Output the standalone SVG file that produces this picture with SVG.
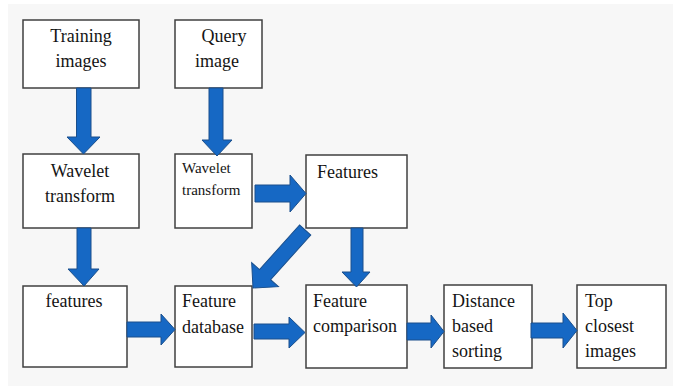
<svg xmlns="http://www.w3.org/2000/svg" width="673" height="390" viewBox="0 0 673 390">
  <style>
    .box { fill: #ffffff; stroke: #404040; stroke-width: 1.5; }
    .arrow { fill: #1668c4; stroke: #1a4f8c; stroke-width: 1; stroke-linejoin: miter; }
    text { font-family: "Liberation Serif", "Times New Roman", serif; font-size: 18px; fill: #141414; }
    .small { font-size: 15px; }
  </style>

  <!-- page -->
  <rect x="0" y="0" width="673" height="390" fill="#ffffff"/>
  <rect x="8" y="4" width="665" height="382" fill="#f7f7f7"/>

  <!-- nodes -->
  <g id="training-images">
    <rect class="box" x="23" y="20" width="116" height="68"/>
    <text x="81" y="42" text-anchor="middle">Training</text>
    <text x="81" y="67" text-anchor="middle">images</text>
  </g>
  <g id="query-image">
    <rect class="box" x="175" y="20" width="87" height="68"/>
    <text x="224" y="42" text-anchor="middle">Query</text>
    <text x="217" y="67" text-anchor="middle">image</text>
  </g>
  <g id="wavelet-left">
    <rect class="box" x="23" y="154" width="116" height="74"/>
    <text x="80" y="177" text-anchor="middle">Wavelet</text>
    <text x="80" y="202" text-anchor="middle">transform</text>
  </g>
  <g id="wavelet-query">
    <rect class="box" x="175" y="154" width="77" height="74"/>
    <text class="small" x="182" y="173">Wavelet</text>
    <text class="small" x="182" y="195">transform</text>
  </g>
  <g id="features-query">
    <rect class="box" x="306" y="155" width="101" height="73"/>
    <text x="317" y="178">Features</text>
  </g>
  <g id="features">
    <rect class="box" x="23" y="286" width="104" height="81"/>
    <text x="74" y="307" text-anchor="middle">features</text>
  </g>
  <g id="feature-database">
    <rect class="box" x="175" y="286" width="77" height="81"/>
    <text x="182" y="307">Feature</text>
    <text x="182" y="333">database</text>
  </g>
  <g id="feature-comparison">
    <rect class="box" x="306" y="285" width="101" height="83"/>
    <text x="313" y="307">Feature</text>
    <text x="313" y="332">comparison</text>
  </g>
  <g id="distance-sorting">
    <rect class="box" x="444" y="285" width="88" height="83"/>
    <text x="452" y="307">Distance</text>
    <text x="452" y="332">based</text>
    <text x="452" y="357">sorting</text>
  </g>
  <g id="top-closest">
    <rect class="box" x="577" y="285" width="89" height="83"/>
    <text x="585" y="307">Top</text>
    <text x="585" y="332">closest</text>
    <text x="585" y="357">images</text>
  </g>

  <!-- block arrows -->
  <g id="connectors">
    <!-- training images -> wavelet -->
    <polygon class="arrow" points="76.5,88 91,88 91,137 100,137 83.5,154 67,137 76.5,137"/>
    <!-- query image -> wavelet -->
    <polygon class="arrow" points="209,88 223,88 223,140 232,140 217,156 202,140 209,140"/>
    <!-- wavelet -> features (left column) -->
    <polygon class="arrow" points="77,228 91,228 91,269 99,269 84,286 68,269 77,269"/>
    <!-- wavelet (query) -> Features -->
    <polygon class="arrow" points="255,185 290,185 290,175 306,193.5 290,212 290,202 255,202"/>
    <!-- Features -> feature comparison -->
    <polygon class="arrow" points="351,228 363,228 363,272 370,272 356.5,287 342,272 351,272"/>
    <!-- Features -> feature database (diagonal) -->
    <polygon class="arrow" transform="translate(253,288) rotate(132)" points="0,0 -18,-18 -18,-7.5 -78,-7.5 -78,7.5 -18,7.5 -18,18"/>
    <!-- features -> feature database -->
    <polygon class="arrow" points="127,322 161,322 161,314 175,329.5 161,345 161,337 127,337"/>
    <!-- feature database -> feature comparison -->
    <polygon class="arrow" points="254,324 289,324 289,317 305,332.5 289,348 289,339 254,339"/>
    <!-- feature comparison -> distance sorting -->
    <polygon class="arrow" points="407,323 431,323 431,315 444,331.5 431,348 431,340 407,340"/>
    <!-- distance sorting -> top closest -->
    <polygon class="arrow" points="531,323 563,323 563,313 577,330.5 563,348 563,338 531,338"/>
  </g>
</svg>
